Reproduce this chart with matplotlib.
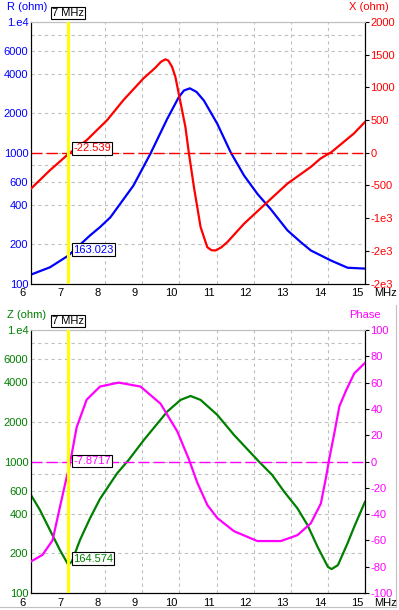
import matplotlib
matplotlib.use("Agg")
import matplotlib.pyplot as plt
from matplotlib.ticker import NullLocator
from matplotlib.transforms import ScaledTranslation

plt.rcParams['font.family'] = ['Liberation Sans', 'DejaVu Sans']
plt.rcParams['font.size'] = 8

# R (ohm), blue, log axis
r_freq = [6.0, 6.51, 7.0, 7.59, 7.86, 8.14, 8.76, 9.22, 9.67, 9.98, 10.12, 10.28, 10.46,
          10.66, 11.02, 11.38, 11.74, 12.1, 12.46, 12.91, 13.27, 13.54, 14.08, 14.53, 15.0]
r_ohm = [117, 133, 163.023, 233, 270, 321, 561, 986, 1815, 2655, 2990, 3110, 2920,
         2505, 1665, 1008, 670, 485, 370, 255, 207, 179, 150, 132, 130]

# X (ohm), red, linear axis
x_freq = [6.0, 6.51, 7.0, 7.5, 8.05, 8.49, 9.03, 9.35, 9.5, 9.62, 9.7, 9.8, 9.89, 9.98,
          10.16, 10.25, 10.39, 10.57, 10.75, 10.86, 10.97, 11.12, 11.29, 11.74, 12.37,
          12.91, 13.54, 13.8, 14.1, 14.7, 15.0]
x_ohm = [-549, -268, -22.539, 192, 498, 805, 1137, 1300, 1390, 1429, 1410, 1315, 1162,
         907, 396, 12, -524, -1137, -1444, -1490, -1495, -1450, -1367, -1086, -754,
         -472, -217, -89, 12, 294, 472]

# Z (ohm), green, log axis
z_freq = [6.0, 6.24, 6.51, 6.78, 7.0, 7.1, 7.32, 7.59, 7.86, 8.32, 8.63, 9.04, 9.67,
          10.03, 10.3, 10.57, 11.02, 11.47, 12.14, 12.5, 12.82, 13.18, 13.45, 13.72,
          14.0, 14.1, 14.27, 14.53, 14.71, 15.0]
z_ohm = [556, 428, 301, 212, 164.574, 173, 253, 370, 520, 813, 1026, 1456, 2394,
         2940, 3150, 2940, 2262, 1592, 1000, 789, 590, 440, 329, 225,
         158, 152, 163, 239, 319, 494]

# Phase (deg), magenta, linear axis
p_freq = [6.0, 6.31, 6.58, 6.8, 6.96, 7.0, 7.1, 7.23, 7.5, 7.86, 8.36, 8.95, 9.49,
          9.94, 10.25, 10.48, 10.75, 11.02, 11.47, 12.1, 12.73, 13.18, 13.54, 13.81,
          13.95, 14.04, 14.17, 14.31, 14.49, 14.71, 15.0]
p_deg = [-76, -71, -60, -32, -12, -7.8717, 6, 26, 47, 57, 60, 57, 44,
         23, 2, -16, -33, -43, -53, -60.5, -60.5, -56, -47, -32,
         -12, 2.4, 21, 42, 54, 67, 75]

marker_mhz = 7.0

freq_ticks = list(range(6, 16))
log_ticks = [100, 200, 400, 600, 800, 1000, 2000, 4000, 6000, 8000, 10000]
log_labels = ["100", "200", "400", "600", "", "1000", "2000", "4000", "6000", "", "1.e4"]
x_ticks = [-2000, -1500, -1000, -500, 0, 500, 1000, 1500, 2000]
x_labels = ["-2e3", "-2e3", "-1e3", "-500", "0", "500", "1000", "1500", "2000"]
p_ticks = list(range(-100, 101, 20))

W, H = 399, 610
BLUE, RED, GREEN, MAG = '#0000ff', '#ff0000', '#008000', '#ff00ff'
GRID = '#c0c0c0'

fig = plt.figure(figsize=(W / 100, H / 100), dpi=100)


def fpos(x, y):
    return x / W, 1 - y / H


def make_panel(top, bottom, lcol, rcol, lname, rname, rlim, rticks, rlabels):
    ax = fig.add_axes([31 / W, 1 - bottom / H, 334 / W, (bottom - top) / H])
    ax.set_yscale('log')
    ax.set_xlim(6, 15)
    ax.set_ylim(100, 10000)
    ax.set_yticks(log_ticks)
    ax.set_yticklabels(log_labels)
    ax.yaxis.set_minor_locator(NullLocator())
    ax.tick_params(axis='y', length=0, pad=2, labelcolor=lcol)
    ax.set_xticks(freq_ticks)
    ax.tick_params(axis='x', length=0, pad=3.5)
    off = ScaledTranslation(-8 / 100, 0, fig.dpi_scale_trans)
    for lab in ax.get_xticklabels():
        lab.set_transform(lab.get_transform() + off)
    ax.grid(True, color=GRID, ls=(0, (3, 3)), lw=0.8)
    ax.set_axisbelow(True)

    axr = ax.twinx()
    axr.set_ylim(*rlim)
    axr.set_yticks(rticks)
    axr.set_yticklabels(rlabels)
    axr.tick_params(axis='y', length=3, width=0.8, pad=1, color='black', labelcolor=rcol)
    for a in (ax, axr):
        a.spines['top'].set_color(GRID)
        for s in ('left', 'right', 'bottom'):
            a.spines[s].set_color('black')
            a.spines[s].set_linewidth(0.8)
        a.spines['top'].set_linewidth(0.8)

    x0, y0 = fpos(7, top - 15)
    fig.text(x0, y0, lname, color=lcol, va='center', ha='left')
    x1, y1 = fpos(349, top - 15)
    fig.text(x1, y1, rname, color=rcol, va='center', ha='left')
    x2, y2 = fpos(374, bottom + 10)
    fig.text(x2, y2, 'MHz', va='center', ha='left')

    ax.annotate('7 MHz', xy=(marker_mhz, 1), xycoords=('data', 'axes fraction'),
                xytext=(0, 9), textcoords='offset pixels', ha='center', va='center',
                bbox=dict(boxstyle='square,pad=0.12', fc='white', ec='black', lw=0.8))
    return ax, axr


def value_box(a, y, text, color, dy=1):
    a.annotate(text, xy=(marker_mhz, y), xytext=(5, dy), textcoords='offset pixels',
               ha='left', va='bottom', color=color, zorder=10,
               bbox=dict(boxstyle='square,pad=0.12', fc='white', ec='black', lw=0.8))


# top panel: R / X
ax, axr = make_panel(22, 283.5, BLUE, RED, 'R (ohm)', 'X (ohm)', (-2000, 2000), x_ticks, x_labels)
ax.plot(r_freq, r_ohm, color=BLUE, lw=1.6, zorder=3)
axr.axhline(0, color=RED, lw=1.0, ls=(0, (8, 3)), zorder=2)
axr.plot(x_freq, x_ohm, color=RED, lw=1.6, zorder=3)
axr.axvline(marker_mhz, color='#ffff00', lw=2.2, zorder=5)
value_box(axr, x_ohm[x_freq.index(marker_mhz)], '-22.539', RED)
value_box(ax, r_ohm[r_freq.index(marker_mhz)], '163.023', BLUE)

# bottom panel: Z / Phase
bx, bxr = make_panel(330, 593, GREEN, MAG, 'Z (ohm)', 'Phase', (-100, 100), p_ticks,
                     [str(t) for t in p_ticks])
bx.plot(z_freq, z_ohm, color=GREEN, lw=1.6, zorder=3)
bxr.axhline(0, color=MAG, lw=1.0, ls=(0, (8, 3)), zorder=2)
bxr.plot(p_freq, p_deg, color=MAG, lw=1.6, zorder=3)
bxr.axvline(marker_mhz, color='#ffff00', lw=2.2, zorder=5)
value_box(bxr, p_deg[p_freq.index(marker_mhz)], '-7.8717', MAG, dy=6)
value_box(bx, z_ohm[z_freq.index(marker_mhz)], '164.574', GREEN)

# window border of the lower plot
fig.add_artist(plt.Line2D([396 / W, 396 / W], [1 - 305 / H, 1 - 607 / H], color=GRID, lw=0.8))
fig.add_artist(plt.Line2D([0, 396 / W], [1 - 607 / H, 1 - 607 / H], color=GRID, lw=0.8))

fig.savefig('out.png', dpi=100)
